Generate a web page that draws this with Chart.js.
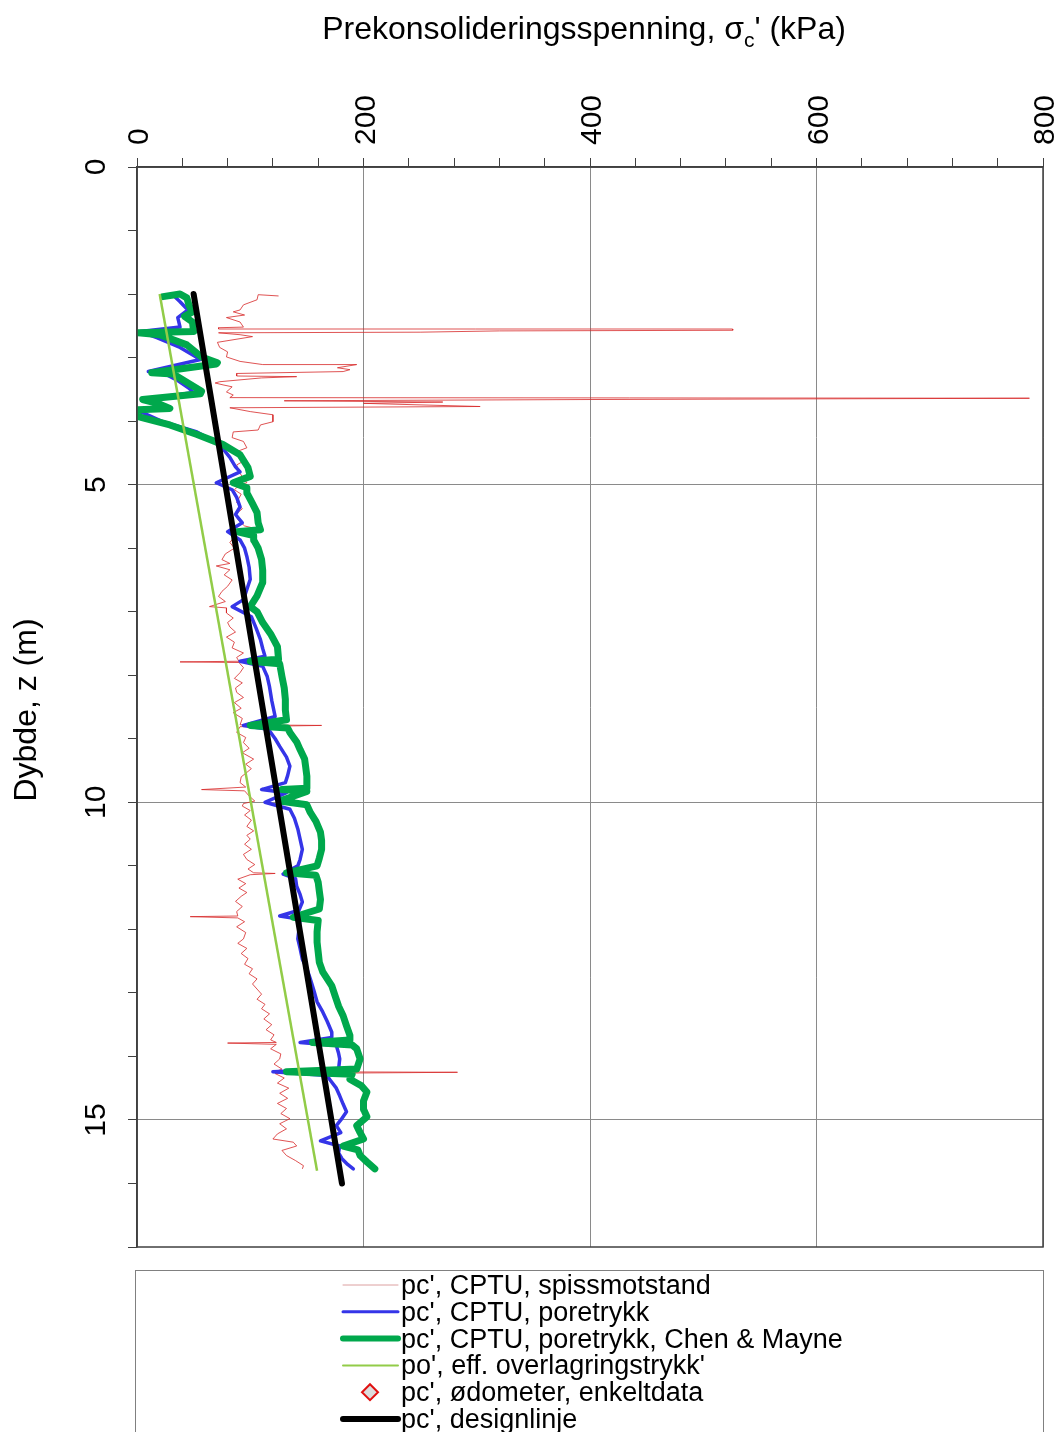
<!DOCTYPE html>
<html>
<head>
<meta charset="utf-8">
<title>Prekonsolideringsspenning</title>
<script src="https://cdn.jsdelivr.net/npm/chart.js@4.4.1/dist/chart.umd.min.js"></script>
<style>
  html, body { margin: 0; padding: 0; background: #fff; }
  #wrap { width: 1062px; height: 1432px; }
</style>
</head>
<body>
<div id="wrap"><canvas id="chartPc" width="1062" height="1432"></canvas></div>
<script>
// axis ticks (kPa across the top, depth downwards)
const xMajorTicks = [0, 200, 400, 600, 800];
const yMajorTicks = [0, 5, 10, 15];

// pc' from CPTU tip resistance
const spissDepth = [2.03, 2.01, 2.09, 2.17, 2.25, 2.28, 2.33, 2.37, 2.44, 2.52, 2.53, 2.55, 2.55, 2.57, 2.58, 2.60, 2.61, 2.64, 2.67, 2.76,
  2.84, 2.91, 2.99, 3.06, 3.11, 3.11, 3.16, 3.19, 3.22, 3.25, 3.29, 3.30, 3.32, 3.38, 3.40, 3.43, 3.46, 3.54, 3.59, 3.63,
  3.64, 3.66, 3.68, 3.70, 3.72, 3.77, 3.79, 3.85, 3.90, 4.01, 4.06, 4.14, 4.17, 4.26, 4.32, 4.42, 4.48, 4.64, 4.69, 4.80,
  4.97, 5.00, 5.08, 5.15, 5.28, 5.38, 5.47, 5.55, 5.65, 5.72, 5.74, 5.82, 5.91, 6.00, 6.09, 6.18, 6.24, 6.28, 6.34, 6.42,
  6.50, 6.60, 6.68, 6.76, 6.84, 6.92, 6.94, 7.02, 7.10, 7.17, 7.24, 7.32, 7.40, 7.48, 7.57, 7.65, 7.72, 7.78, 7.79, 7.80,
  7.88, 7.96, 8.05, 8.12, 8.20, 8.27, 8.35, 8.43, 8.52, 8.59, 8.68, 8.78, 8.79, 8.81, 8.90, 8.98, 9.06, 9.15, 9.22, 9.32,
  9.40, 9.47, 9.53, 9.60, 9.69, 9.76, 9.80, 9.82, 9.90, 9.98, 10.02, 10.06, 10.13, 10.20, 10.28, 10.38, 10.45, 10.52, 10.58, 10.66,
  10.74, 10.82, 10.90, 10.98, 11.05, 11.11, 11.12, 11.14, 11.21, 11.28, 11.35, 11.42, 11.48, 11.56, 11.64, 11.72, 11.79, 11.80, 11.82, 11.88,
  11.96, 12.05, 12.15, 12.22, 12.30, 12.38, 12.46, 12.55, 12.62, 12.70, 12.78, 12.86, 12.94, 13.02, 13.10, 13.18, 13.25, 13.33, 13.41, 13.50,
  13.58, 13.66, 13.74, 13.78, 13.79, 13.81, 13.88, 13.96, 14.04, 14.12, 14.20, 14.24, 14.25, 14.27, 14.34, 14.42, 14.50, 14.58, 14.66, 14.74,
  14.82, 14.90, 14.98, 15.06, 15.14, 15.22, 15.30, 15.35, 15.41, 15.48, 15.56, 15.64, 15.72, 15.77];
const spissKpa = [125, 107, 106, 94, 91, 85, 95, 79, 91, 94, 72, 72, 526, 526, 320, 250, 72, 91, 102, 71,
  73, 80, 79, 91, 111, 194, 177, 188, 182, 88, 88, 141, 110, 73, 69, 76, 84, 79, 85, 82,
  788, 400, 130, 270, 200, 303, 82, 100, 120, 120, 109, 107, 85, 84, 94, 97, 88, 93, 88, 90,
  97, 91, 86, 92, 88, 93, 87, 89, 95, 111, 90, 86, 82, 86, 78, 75, 82, 70, 82, 77,
  84, 80, 75, 72, 78, 64, 79, 79, 85, 80, 82, 87, 79, 86, 84, 94, 88, 90, 38, 90,
  94, 91, 86, 93, 87, 88, 94, 86, 92, 85, 93, 91, 163, 91, 88, 96, 94, 99, 93, 103,
  96, 101, 97, 92, 91, 96, 57, 95, 99, 104, 94, 93, 100, 95, 101, 97, 103, 97, 100, 95,
  101, 94, 97, 104, 98, 103, 122, 100, 89, 96, 90, 97, 92, 87, 93, 88, 89, 47, 89, 95,
  88, 96, 94, 89, 97, 92, 98, 95, 102, 99, 106, 102, 106, 110, 106, 113, 110, 117, 112, 119,
  114, 121, 118, 123, 80, 123, 118, 127, 126, 121, 128, 122, 283, 122, 130, 124, 134, 126, 133, 124,
  132, 127, 135, 126, 132, 124, 120, 138, 141, 128, 132, 140, 147, 146];

// pc' from CPTU pore pressure
const poreDepth = [2.04, 2.02, 2.12, 2.25, 2.37, 2.52, 2.59, 2.69, 2.84, 3.03, 3.22, 3.24, 3.35, 3.47, 3.55, 3.66, 3.75, 3.80, 3.85, 4.01,
  4.17, 4.37, 4.57, 4.72, 4.80, 4.97, 5.08, 5.20, 5.35, 5.47, 5.60, 5.74, 5.87, 6.00, 6.13, 6.30, 6.49, 6.65, 6.81, 6.92,
  7.08, 7.25, 7.44, 7.58, 7.70, 7.78, 7.86, 8.02, 8.18, 8.40, 8.65, 8.79, 8.85, 9.00, 9.12, 9.29, 9.43, 9.58, 9.69, 9.80,
  9.85, 10.00, 10.11, 10.25, 10.42, 10.58, 10.74, 10.90, 11.00, 11.13, 11.20, 11.32, 11.45, 11.57, 11.70, 11.79, 11.84, 12.00, 12.15, 12.30,
  12.47, 12.62, 12.78, 12.95, 13.14, 13.30, 13.45, 13.62, 13.70, 13.78, 13.83, 13.95, 14.04, 14.20, 14.24, 14.30, 14.36, 14.50, 14.62, 14.75,
  14.87, 15.00, 15.09, 15.20, 15.33, 15.41, 15.52, 15.61, 15.70, 15.77];
const poreKpa = [23, 32, 38, 45, 36, 38, 3, 18, 38, 56, 10, 23, 35, 45, 50, 5, 25, 15, 3, 23,
  53, 73, 82, 87, 91, 70, 84, 88, 91, 87, 93, 80, 91, 95, 97, 99, 100, 97, 94, 84,
  101, 105, 109, 111, 113, 91, 111, 115, 117, 119, 122, 94, 116, 122, 126, 132, 135, 133, 131, 110,
  132, 113, 135, 139, 142, 144, 146, 144, 142, 129, 140, 141, 144, 146, 143, 126, 144, 143, 142, 144,
  146, 150, 153, 156, 159, 164, 168, 172, 172, 144, 176, 178, 179, 178, 120, 168, 170, 176, 179, 182,
  185, 180, 176, 180, 162, 179, 178, 181, 186, 191];

// pc' from CPTU pore pressure, Chen & Mayne
const chenDepth = [2.04, 2.00, 2.06, 2.18, 2.28, 2.35, 2.44, 2.59, 2.61, 2.64, 2.80, 2.99, 3.08, 3.10, 3.24, 3.26, 3.40, 3.53, 3.57, 3.66,
  3.72, 3.80, 3.82, 3.93, 4.06, 4.21, 4.37, 4.53, 4.73, 4.87, 4.97, 5.05, 5.13, 5.30, 5.44, 5.60, 5.71, 5.74, 5.80, 5.87,
  6.00, 6.18, 6.35, 6.54, 6.75, 6.92, 7.00, 7.17, 7.35, 7.55, 7.75, 7.78, 7.82, 8.02, 8.20, 8.38, 8.55, 8.70, 8.79, 8.83,
  8.90, 9.05, 9.17, 9.32, 9.45, 9.59, 9.78, 9.80, 9.83, 9.98, 10.04, 10.16, 10.30, 10.47, 10.60, 10.74, 10.88, 11.00, 11.11, 11.15,
  11.26, 11.40, 11.53, 11.68, 11.81, 11.86, 12.04, 12.20, 12.36, 12.52, 12.67, 12.78, 12.89, 13.05, 13.21, 13.36, 13.52, 13.67, 13.74, 13.78,
  13.82, 13.88, 14.04, 14.20, 14.24, 14.28, 14.36, 14.46, 14.56, 14.70, 14.83, 14.95, 15.09, 15.20, 15.30, 15.41, 15.47, 15.56, 15.66, 15.77];
const chenKpa = [23, 38, 44, 46, 49, 42, 49, 50, 1, 20, 44, 57, 71, 70, 13, 32, 45, 57, 56, 5,
  18, 29, 1, 1, 29, 53, 76, 91, 98, 100, 85, 97, 97, 102, 106, 107, 109, 88, 103, 103,
  107, 110, 111, 111, 106, 100, 106, 111, 118, 124, 125, 100, 126, 128, 130, 131, 131, 132, 100, 133,
  135, 141, 144, 148, 149, 150, 150, 128, 150, 126, 150, 153, 158, 162, 163, 163, 161, 159, 132, 158,
  160, 161, 162, 161, 138, 160, 159, 159, 160, 161, 164, 168, 172, 175, 178, 182, 185, 188, 188, 155,
  190, 194, 197, 194, 132, 190, 188, 198, 203, 200, 200, 203, 194, 197, 200, 182, 195, 197, 203, 210];

// po', effective overburden
const overDepth = [2.0, 15.8];
const overKpa = [20, 159];

// pc' oedometer single values (none in this profile)
const oedDepth = [];
const oedKpa = [];

// pc' design line
const designDepth = [2.0, 16.0];
const designKpa = [50, 181];

const FONT = '"Liberation Sans", Arial, Helvetica, sans-serif';

function pts(depth, kpa) {
  return depth.map((d, i) => ({ x: kpa[i], y: d }));
}

// frame, rotated tick labels, axis titles and boxed legend
const decorPlugin = {
  id: 'decor',
  afterDraw(chart) {
    const ctx = chart.ctx;
    const area = chart.chartArea;
    const xs = chart.scales.x, ys = chart.scales.y;
    ctx.save();

    ctx.strokeStyle = '#404040';
    ctx.lineWidth = 1.5;
    ctx.strokeRect(area.left, area.top, area.right - area.left, area.bottom - area.top);

    ctx.fillStyle = '#000';
    ctx.font = '30px ' + FONT;
    ctx.textBaseline = 'alphabetic';
    xMajorTicks.forEach(v => {
      const px = xs.getPixelForValue(v);
      ctx.save();
      ctx.translate(px + 11, area.top - 22);
      ctx.rotate(-Math.PI / 2);
      ctx.textAlign = 'left';
      ctx.fillText(String(v), 0, 0);
      ctx.restore();
    });
    yMajorTicks.forEach(v => {
      const py = ys.getPixelForValue(v);
      ctx.save();
      ctx.translate(105, py);
      ctx.rotate(-Math.PI / 2);
      ctx.textAlign = 'center';
      ctx.fillText(String(v), 0, 0);
      ctx.restore();
    });

    // top title with subscript c
    const big = '32px ' + FONT, small = '21px ' + FONT;
    const p1 = 'Prekonsolideringsspenning, \u03c3', p2 = 'c', p3 = "' (kPa)";
    ctx.font = big; const w1 = ctx.measureText(p1).width, w3 = ctx.measureText(p3).width;
    ctx.font = small; const w2 = ctx.measureText(p2).width;
    let tx = 584 - (w1 + w2 + w3) / 2;
    ctx.textAlign = 'left';
    ctx.font = big; ctx.fillText(p1, tx, 39); tx += w1;
    ctx.font = small; ctx.fillText(p2, tx, 47); tx += w2;
    ctx.font = big; ctx.fillText(p3, tx, 39);

    // vertical title
    ctx.save();
    ctx.translate(36, 710);
    ctx.rotate(-Math.PI / 2);
    ctx.textAlign = 'center';
    ctx.font = big;
    ctx.fillText('Dybde, z (m)', 0, 0);
    ctx.restore();

    // legend box
    ctx.strokeStyle = '#808080';
    ctx.lineWidth = 1;
    ctx.strokeRect(135.5, 1270.5, 908, 200);
    ctx.font = '27px ' + FONT;
    chart.data.datasets.forEach((ds, i) => {
      const cy = 1285 + i * 26.8;
      if (ds.showLine === false) {
        ctx.beginPath();
        ctx.moveTo(370, cy - 8); ctx.lineTo(378, cy); ctx.lineTo(370, cy + 8); ctx.lineTo(362, cy);
        ctx.closePath();
        ctx.fillStyle = ds.backgroundColor; ctx.fill();
        ctx.strokeStyle = ds.borderColor; ctx.lineWidth = 2; ctx.stroke();
      } else {
        ctx.beginPath();
        ctx.moveTo(343, cy); ctx.lineTo(398, cy);
        ctx.strokeStyle = ds.legendColor || ds.borderColor;
        ctx.lineWidth = ds.legendWidth || ds.borderWidth;
        ctx.lineCap = 'round';
        ctx.stroke();
      }
      ctx.fillStyle = '#000';
      ctx.fillText(ds.label, 401, cy + 9);
    });
    ctx.restore();
  }
};

new Chart(document.getElementById('chartPc').getContext('2d'), {
  type: 'scatter',
  data: {
    datasets: [
      { label: "pc', CPTU, spissmotstand", data: pts(spissDepth, spissKpa), showLine: true,
        borderColor: 'rgba(215,40,40,0.8)', borderWidth: 1, legendColor: '#dca0a0', order: 5 },
      { label: "pc', CPTU, poretrykk", data: pts(poreDepth, poreKpa), showLine: true,
        borderColor: '#3535e8', borderWidth: 3.5, borderJoinStyle: 'round', borderCapStyle: 'round',
        legendWidth: 3, order: 4 },
      { label: "pc', CPTU, poretrykk, Chen & Mayne", data: pts(chenDepth, chenKpa), showLine: true,
        borderColor: '#00a84c', borderWidth: 7, borderJoinStyle: 'round', borderCapStyle: 'round',
        legendWidth: 6, order: 3 },
      { label: "po', eff. overlagringstrykk'", data: pts(overDepth, overKpa), showLine: true,
        borderColor: '#92cc48', borderWidth: 2.5, legendWidth: 2, order: 2 },
      { label: "pc', ødometer, enkeltdata", data: pts(oedDepth, oedKpa), showLine: false,
        pointStyle: 'rectRot', pointRadius: 8, borderColor: '#e01010', backgroundColor: '#dcdcdc', order: 1 },
      { label: "pc', designlinje", data: pts(designDepth, designKpa), showLine: true,
        borderColor: '#000000', borderWidth: 6, legendWidth: 6, borderCapStyle: 'round', order: 0 }
    ]
  },
  options: {
    responsive: false,
    animation: false,
    layout: { padding: { top: 158, left: 128, right: 19, bottom: 185 } },
    elements: { point: { radius: 0, hoverRadius: 0 }, line: { tension: 0 } },
    plugins: { legend: { display: false }, tooltip: { enabled: false }, title: { display: false } },
    scales: {
      x: {
        type: 'linear', position: 'top', min: 0, max: 800,
        ticks: { display: false, stepSize: 40 },
        grid: {
          color: c => (c.tick && c.tick.value % 200 === 0) ? '#8a8a8a' : 'rgba(0,0,0,0)',
          tickColor: '#404040', tickLength: 9, lineWidth: 1
        },
        border: { color: '#404040', width: 1.5 }
      },
      y: {
        type: 'linear', reverse: true, min: 0, max: 17,
        ticks: { display: false, stepSize: 1 },
        grid: {
          color: c => (c.tick && c.tick.value % 5 === 0) ? '#8a8a8a' : 'rgba(0,0,0,0)',
          tickColor: '#404040', tickLength: 9, lineWidth: 1
        },
        border: { color: '#404040', width: 1.5 }
      }
    }
  },
  plugins: [decorPlugin]
});
</script>
</body>
</html>
